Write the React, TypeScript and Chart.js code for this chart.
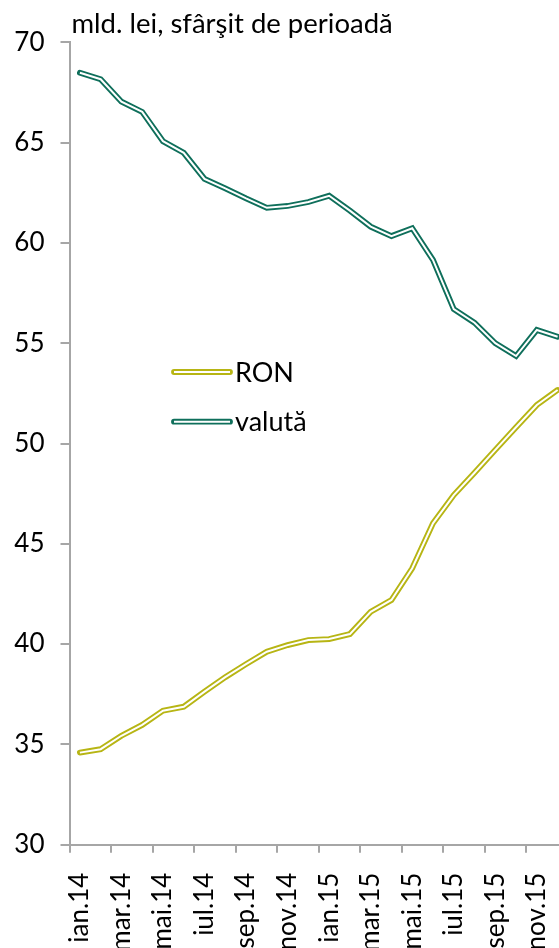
import React, { useEffect, useRef } from "react";
import { Chart, registerables } from "chart.js";

Chart.register(...registerables);

const categories = [
  "ian.14", "feb.14", "mar.14", "apr.14", "mai.14", "iun.14",
  "iul.14", "aug.14", "sep.14", "oct.14", "nov.14", "dec.14",
  "ian.15", "feb.15", "mar.15", "apr.15", "mai.15", "iun.15",
  "iul.15", "aug.15", "sep.15", "oct.15", "nov.15", "dec.15",
];

const ronValues = [
  34.59, 34.76, 35.43, 35.97, 36.68, 36.88, 37.63, 38.35, 39.0, 39.62, 39.95, 40.2,
  40.25, 40.5, 41.61, 42.2, 43.78, 46.02, 47.43, 48.54, 49.68, 50.81, 51.92, 52.67,
];

const valutaValues = [
  68.48, 68.16, 67.04, 66.53, 65.07, 64.49, 63.19, 62.72, 62.22, 61.75, 61.84, 62.04,
  62.35, 61.61, 60.81, 60.34, 60.73, 59.15, 56.7, 56.02, 55.0, 54.36, 55.66, 55.32,
];

const seriesNames = ["RON", "valută"];
const seriesColors = ["#B7B514", "#0F6F5B"];
const yMin = 30;
const yMax = 70;
const yStep = 5;
const titleText = "mld. lei, sfârşit de perioadă";

const FONT = 'Lato, "Liberation Sans", sans-serif';
const TITLE_SIZE = 27.5;
const YTICK_SIZE = 26;
const XTICK_SIZE = 26;
const LEGEND_SIZE = 27;
const AXIS_COLOR = "#A6A6A6";
const OUTER_W = 5.8;
const INNER_W = 2.0;

const CANVAS_W = 590;
const CANVAS_H = 948;
const AREA_LEFT = 69.5;
const AREA_RIGHT = 568;
const AREA_TOP = 42.3;
const AREA_BOTTOM = 844.7;

const overlayPlugin = {
  id: "overlay",
  afterDraw(chart: any) {
    const ctx = chart.ctx;
    const area = chart.chartArea;
    ctx.save();
    ctx.fillStyle = "#000";
    ctx.font = `${TITLE_SIZE}px ${FONT}`;
    ctx.textAlign = "left";
    ctx.textBaseline = "alphabetic";
    ctx.fillText(titleText, area.left + 2, 33);

    const legendX1 = 174;
    const legendX2 = 230;
    const legendYs = [372, 421.7];
    ctx.font = `${LEGEND_SIZE}px ${FONT}`;
    seriesNames.forEach((name, i) => {
      const y = legendYs[i];
      ctx.lineCap = "round";
      ctx.strokeStyle = seriesColors[i];
      ctx.lineWidth = OUTER_W;
      ctx.beginPath();
      ctx.moveTo(legendX1, y);
      ctx.lineTo(legendX2, y);
      ctx.stroke();
      ctx.lineCap = "butt";
      ctx.strokeStyle = "#FFFFFF";
      ctx.lineWidth = INNER_W;
      ctx.beginPath();
      ctx.moveTo(legendX1, y);
      ctx.lineTo(legendX2, y);
      ctx.stroke();
      ctx.fillStyle = "#000";
      ctx.textBaseline = "middle";
      ctx.fillText(name, legendX2 + 5, y + 1);
    });
    ctx.restore();
  },
};

export default function App() {
  const canvasRef = useRef<HTMLCanvasElement | null>(null);

  useEffect(() => {
    const canvas = canvasRef.current;
    if (!canvas) return;
    const makeOuter = (data: number[], color: string, label: string) => ({
      label,
      data,
      borderColor: color,
      borderWidth: OUTER_W,
      borderCapStyle: "round" as const,
      borderJoinStyle: "miter" as const,
      pointRadius: 0,
      tension: 0,
      fill: false,
      order: 2,
    });
    const makeInner = (data: number[], label: string) => ({
      label: label + " (inner)",
      data,
      borderColor: "#FFFFFF",
      borderWidth: INNER_W,
      borderCapStyle: "butt" as const,
      borderJoinStyle: "miter" as const,
      pointRadius: 0,
      tension: 0,
      fill: false,
      order: 1,
    });

    const chart = new Chart(canvas, {
      type: "line",
      data: {
        labels: categories,
        datasets: [
          makeOuter(ronValues, seriesColors[0], seriesNames[0]),
          makeOuter(valutaValues, seriesColors[1], seriesNames[1]),
          makeInner(ronValues, seriesNames[0]),
          makeInner(valutaValues, seriesNames[1]),
        ],
      },
      options: {
        responsive: false,
        animation: false,
        devicePixelRatio: 1,
        layout: {
          padding: { top: AREA_TOP, right: CANVAS_W - AREA_RIGHT, left: 0, bottom: 0 },
        },
        plugins: {
          legend: { display: false },
          title: { display: false },
          tooltip: { enabled: false },
        },
        scales: {
          x: {
            type: "category",
            offset: true,
            border: { color: AXIS_COLOR, width: 2 },
            grid: {
              offset: true,
              drawOnChartArea: false,
              drawTicks: true,
              tickLength: 8,
              lineWidth: 2,
              tickColor: (c: any) => (c.index % 2 === 0 ? AXIS_COLOR : "rgba(0,0,0,0)"),
            },
            ticks: {
              autoSkip: false,
              minRotation: 90,
              maxRotation: 90,
              padding: 20,
              color: "#000",
              font: { family: FONT, size: XTICK_SIZE },
              callback: (_v: any, idx: number) => (idx % 2 === 0 ? categories[idx] : ""),
            },
            afterFit: (scale: any) => {
              scale.height = CANVAS_H - AREA_BOTTOM;
              scale.paddingLeft = 0;
              scale.paddingRight = 0;
            },
          },
          y: {
            min: yMin,
            max: yMax,
            border: { color: AXIS_COLOR, width: 2 },
            grid: {
              drawOnChartArea: false,
              drawTicks: true,
              tickLength: 9,
              lineWidth: 2,
              tickColor: AXIS_COLOR,
            },
            ticks: {
              stepSize: yStep,
              padding: 16,
              color: "#000",
              font: { family: FONT, size: YTICK_SIZE },
            },
            afterFit: (scale: any) => {
              scale.width = AREA_LEFT;
              scale.paddingTop = 0;
              scale.paddingBottom = 0;
            },
          },
        },
      },
      plugins: [overlayPlugin],
    });
    return () => chart.destroy();
  }, []);

  return (
    <div
      style={{
        position: "fixed",
        left: 0,
        top: 0,
        width: 559,
        height: 948,
        overflow: "hidden",
        background: "#FFFFFF",
      }}
    >
      <canvas ref={canvasRef} width={CANVAS_W} height={CANVAS_H} style={{ display: "block" }} />
    </div>
  );
}
